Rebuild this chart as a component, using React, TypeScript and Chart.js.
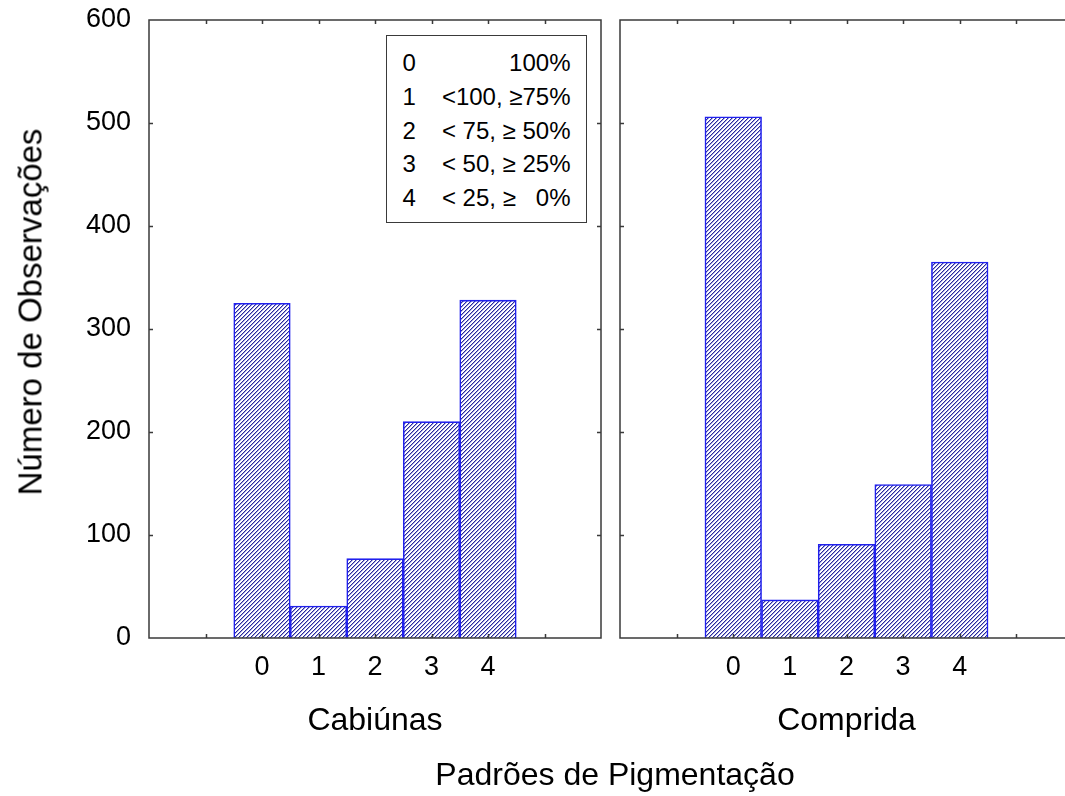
import React, { useEffect, useRef } from 'react';
import { Chart, registerables } from 'chart.js';

Chart.register(...registerables);

// Pigmentation pattern codes (x categories) and their positions on the axis
const patternCodes = ['0', '1', '2', '3', '4'];
const patternPositions = [0, 1, 2, 3, 4];

// Observation counts per pattern at each site
const cabiunasCounts = [325, 31, 77, 210, 328];
const compridaCounts = [506, 37, 91, 149, 365];

// Axis ticks
const yTickValues = [0, 100, 200, 300, 400, 500, 600];
const xTickValues = [-1, 0, 1, 2, 3, 4, 5];

// Legend entries: code and pigmentation range
const legendCodes = ['0', '1', '2', '3', '4'];
const legendRanges = ['100%', '<100, \u226575%', '< 75, \u2265 50%', '< 50, \u2265 25%', '< 25, \u2265   0%'];

const siteNames = ['Cabiúnas', 'Comprida'];
const yTitle = 'Número de Observações';
const xTitle = 'Padrões de Pigmentação';

const FONT = '"Liberation Sans", Arial, sans-serif';
const HEIGHT = 796;
const PLOT_TOP = 20;
const PLOT_BOTTOM = 638;

// Diagonal "////" hatch fill for the bars
function makeHatch(): CanvasPattern | string {
  const tile = document.createElement('canvas');
  tile.width = 4;
  tile.height = 4;
  const c = tile.getContext('2d');
  if (!c) return '#8888bb';
  const img = c.createImageData(4, 4);
  const set = (x: number, y: number, r: number, g: number, b: number) => {
    const i = (y * 4 + x) * 4;
    img.data[i] = r;
    img.data[i + 1] = g;
    img.data[i + 2] = b;
    img.data[i + 3] = 255;
  };
  for (let y = 0; y < 4; y++) for (let x = 0; x < 4; x++) set(x, y, 255, 255, 255);
  for (let i = 0; i < 4; i++) {
    set(i, 3 - i, 42, 42, 150);
    set(i, (4 - i) % 4, 160, 160, 228);
  }
  c.putImageData(img, 0, 0);
  return c.createPattern(tile, 'repeat') || '#8888bb';
}

// Draws the closed frame and the inward tick marks on all four sides
const frameTicks = {
  id: 'frameTicks',
  afterDatasetsDraw(chart: any) {
    const { ctx, chartArea: a, scales } = chart;
    ctx.save();
    ctx.strokeStyle = '#3a3a3a';
    ctx.lineWidth = 1.5;
    ctx.strokeRect(a.left, a.top, a.right - a.left, a.bottom - a.top);
    ctx.beginPath();
    const len = 4;
    for (const v of xTickValues) {
      const px = Math.round(scales.x.getPixelForValue(v)) + 0.5;
      ctx.moveTo(px, a.bottom);
      ctx.lineTo(px, a.bottom - len);
      ctx.moveTo(px, a.top);
      ctx.lineTo(px, a.top + len);
    }
    for (const v of yTickValues.slice(1, -1)) {
      const py = Math.round(scales.y.getPixelForValue(v)) + 0.5;
      ctx.moveTo(a.left, py);
      ctx.lineTo(a.left + len, py);
      ctx.moveTo(a.right, py);
      ctx.lineTo(a.right - len, py);
    }
    ctx.stroke();
    ctx.restore();
  },
};

function buildChart(canvas: HTMLCanvasElement, counts: number[], showY: boolean, padLeft: number, padRight: number) {
  const hatch = makeHatch();
  return new Chart(canvas, {
    type: 'bar',
    data: {
      datasets: [
        {
          data: patternPositions.map((x, i) => ({ x, y: counts[i] })),
          backgroundColor: hatch as any,
          borderColor: '#2020ee',
          borderWidth: 1.6,
          barPercentage: 1,
          categoryPercentage: 1,
        },
      ],
    },
    options: {
      responsive: false,
      animation: false,
      events: [],
      layout: { padding: { top: PLOT_TOP, left: padLeft, right: padRight, bottom: 0 } },
      plugins: { legend: { display: false }, tooltip: { enabled: false }, title: { display: false } },
      scales: {
        x: {
          type: 'linear',
          min: -2,
          max: 6,
          offset: false,
          grid: { display: false, drawTicks: false },
          border: { display: false },
          afterFit: (s: any) => {
            s.height = HEIGHT - PLOT_BOTTOM;
            s.paddingLeft = 0;
            s.paddingRight = 0;
          },
          ticks: {
            stepSize: 1,
            autoSkip: false,
            maxRotation: 0,
            padding: 13,
            color: '#000',
            font: { family: FONT, size: 27 },
            callback: (v: any) => {
              const idx = patternPositions.indexOf(Number(v));
              return idx >= 0 ? patternCodes[idx] : '';
            },
          },
        },
        y: {
          display: showY,
          min: 0,
          max: 600,
          grid: { display: false, drawTicks: false },
          border: { display: false },
          afterFit: (s: any) => {
            s.width = showY ? 149 : 0;
            s.paddingTop = 0;
            s.paddingBottom = 0;
          },
          ticks: {
            stepSize: 100,
            padding: 18,
            color: '#000',
            font: { family: FONT, size: 27 },
          },
        },
      },
    } as any,
    plugins: [frameTicks],
  });
}

export default function App() {
  const leftRef = useRef<HTMLCanvasElement>(null);
  const rightRef = useRef<HTMLCanvasElement>(null);

  useEffect(() => {
    if (!leftRef.current || !rightRef.current) return;
    const left = buildChart(leftRef.current, cabiunasCounts, true, 0, 9);
    const right = buildChart(rightRef.current, compridaCounts, false, 10, 9);
    return () => {
      left.destroy();
      right.destroy();
    };
  }, []);

  const text: React.CSSProperties = {
    position: 'absolute',
    fontFamily: FONT,
    color: '#000',
    lineHeight: 1,
    whiteSpace: 'nowrap',
  };

  return (
    <div
      style={{
        position: 'fixed',
        left: 0,
        top: 0,
        width: 1065,
        height: HEIGHT,
        overflow: 'hidden',
        background: '#fff',
      }}
    >
      <canvas ref={leftRef} width={610} height={HEIGHT} style={{ position: 'absolute', left: 0, top: 0 }} />
      <canvas ref={rightRef} width={472} height={HEIGHT} style={{ position: 'absolute', left: 610, top: 0 }} />

      <div
        style={{
          ...text,
          fontSize: 33,
          left: 30,
          top: 312,
          transform: 'translate(-50%, -50%) rotate(-90deg)',
        }}
      >
        {yTitle}
      </div>

      <div style={{ ...text, fontSize: 32, left: 149, width: 452, top: 703, textAlign: 'center' }}>{siteNames[0]}</div>
      <div style={{ ...text, fontSize: 32, left: 620, width: 453, top: 703, textAlign: 'center' }}>{siteNames[1]}</div>
      <div style={{ ...text, fontSize: 32, left: 315, width: 600, top: 758, textAlign: 'center' }}>{xTitle}</div>

      <div
        style={{
          position: 'absolute',
          left: 386,
          top: 35,
          width: 201,
          height: 188,
          boxSizing: 'border-box',
          border: '1.5px solid #3a3a3a',
          background: '#fff',
          padding: '10px 15.5px 0 15.5px',
          fontFamily: FONT,
          fontSize: 24,
          lineHeight: '33.75px',
          color: '#000',
        }}
      >
        {legendCodes.map((code, i) => (
          <div key={code} style={{ display: 'flex', justifyContent: 'space-between', whiteSpace: 'pre' }}>
            <span>{code}</span>
            <span>{legendRanges[i]}</span>
          </div>
        ))}
      </div>
    </div>
  );
}
